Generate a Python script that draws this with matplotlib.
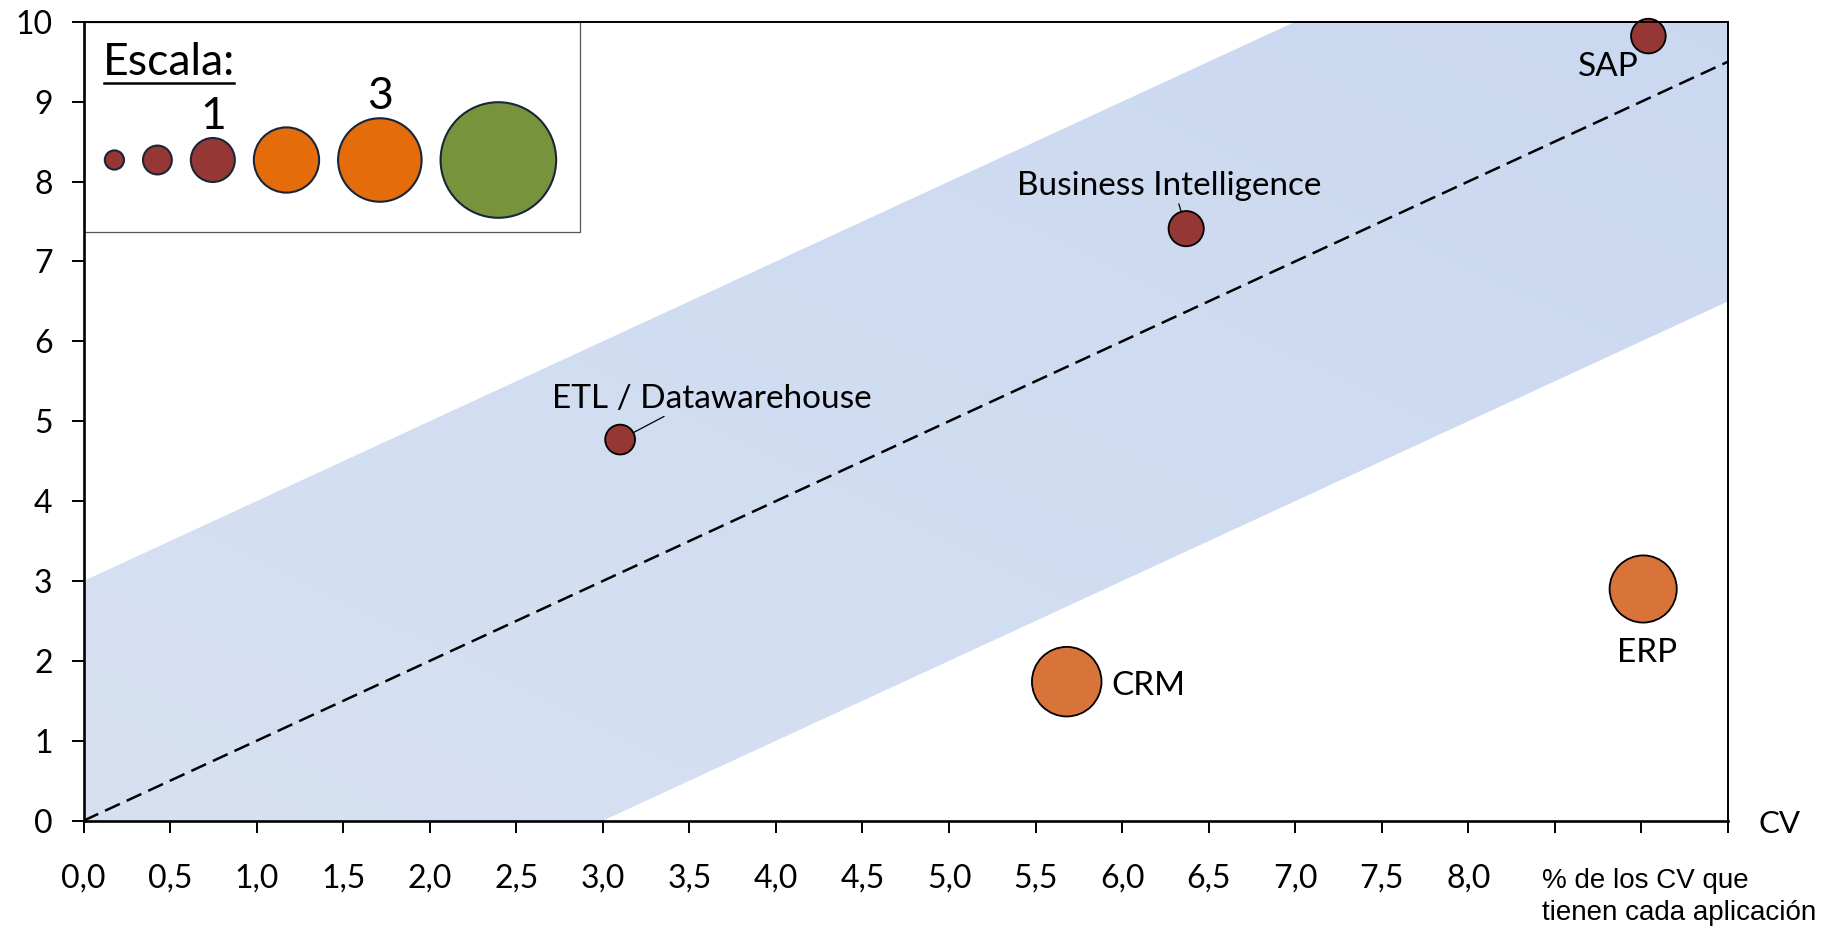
import numpy as np
import matplotlib
matplotlib.use("Agg")
import matplotlib.pyplot as plt
from matplotlib.patches import Circle, Rectangle
from matplotlib.lines import Line2D

# ---------------- data ----------------
apps = ["SAP", "Business Intelligence", "ETL / Datawarehouse", "CRM", "ERP"]
cv_pct = [9.04, 6.37, 3.10, 5.68, 9.01]          # x: % de los CV que tienen cada aplicación
cv_count = [9.82, 7.41, 4.77, 1.74, 2.90]        # y: CV
bubble_size = [0.62, 0.64, 0.46, 2.50, 2.33]
bubble_color = ["#953735", "#953735", "#953735", "#D8733A", "#D8733A"]

scale_values = [0.19, 0.43, 1.0, 2.2, 3.6, 6.9]
scale_labels = ["", "", "1", "", "3", ""]
scale_colors = ["#953735", "#953735", "#953735", "#E46C0A", "#E46C0A", "#77933C"]

x_ticks = [0.0, 0.5, 1.0, 1.5, 2.0, 2.5, 3.0, 3.5, 4.0, 4.5, 5.0, 5.5, 6.0,
           6.5, 7.0, 7.5, 8.0, 8.5, 9.0, 9.5]
x_tick_labels = ["0,0", "0,5", "1,0", "1,5", "2,0", "2,5", "3,0", "3,5", "4,0",
                 "4,5", "5,0", "5,5", "6,0", "6,5", "7,0", "7,5", "8,0", "", "", ""]
y_ticks = [0, 1, 2, 3, 4, 5, 6, 7, 8, 9, 10]
band_half_width = 3.0

# ---------------- layout ----------------
W, H, DPI = 1822, 927, 100
FONT = "Lato"
PX_PER_SIZE = 22.0   # bubble radius (px) for size 1
LABEL_FS = 24.0
LEGEND_FS = 32.0


def px2pt(px):
    return px * 72.0 / DPI


fig = plt.figure(figsize=(W / DPI, H / DPI), dpi=DPI)
ax_l, ax_r, ax_t, ax_b = 83.5, 1728, 21.7, 820.7
ax = fig.add_axes([ax_l / W, (H - ax_b) / H, (ax_r - ax_l) / W, (ax_b - ax_t) / H])
ax.set_xlim(0, 9.5)
ax.set_ylim(0, 10)

# band with subtle gradient
xs = np.linspace(0, 9.5, 200)
band = ax.fill_between(xs, xs - band_half_width, xs + band_half_width,
                       facecolor="none", edgecolor="none")
gx, gy = np.meshgrid(np.linspace(0, 1, 200), np.linspace(0, 1, 200))
t = np.clip((gx + gy) / 2.0, 0, 1)[..., None]
c1 = np.array([0.843, 0.882, 0.949])
c2 = np.array([0.792, 0.847, 0.941])
img = c1 * (1 - t) + c2 * t
im = ax.imshow(img, extent=[0, 9.5, 10, 0], origin="upper", aspect="auto",
               zorder=0.5, interpolation="bilinear")
im.set_clip_path(band.get_paths()[0], ax.transData)
ax.set_ylim(0, 10)

# reference diagonal
ax.plot(xs, xs, color="black", lw=1.8, dashes=(6.5, 3.0), zorder=1.5)

# legend box (in axes)
ax.add_patch(Rectangle((0, 7.37), 2.87, 10 - 7.37, facecolor="white",
                       edgecolor="#555555", lw=0.9, zorder=2))

# bubbles
radii_px = [PX_PER_SIZE * np.sqrt(s) for s in bubble_size]
sizes = [(px2pt(2 * r)) ** 2 for r in radii_px]
ax.scatter(cv_pct, cv_count, s=sizes, c=bubble_color, edgecolors="black",
           linewidths=1.3, zorder=3, clip_on=False)

# labels: (x, baseline y, ha, leader relpos or None)
label_pos = {
    "SAP": (8.81, 9.32, "center", None),
    "Business Intelligence": (6.27, 7.83, "center", 0.53),
    "ETL / Datawarehouse": (3.63, 5.17, "center", 0.367),
    "CRM": (5.94, 1.57, "left", None),
    "ERP": (9.035, 1.99, "center", None),
}
for name, x, y, r in zip(apps, cv_pct, cv_count, radii_px):
    lx, ly, ha, rel = label_pos[name]
    if rel is None:
        ax.text(lx, ly, name, ha=ha, va="baseline", fontsize=LABEL_FS,
                family=FONT, zorder=4)
    else:
        ax.annotate(name, xy=(x, y), xytext=(lx, ly), textcoords="data",
                    ha=ha, va="baseline", fontsize=LABEL_FS, family=FONT, zorder=4,
                    arrowprops=dict(arrowstyle="-", color="black", lw=0.9,
                                    relpos=(rel, 0.0), shrinkA=0,
                                    shrinkB=px2pt(r)))

# axes styling
for side in ["left", "bottom"]:
    ax.spines[side].set_linewidth(1.9)
for side in ["top", "right"]:
    ax.spines[side].set_linewidth(1.4)
for sp in ax.spines.values():
    sp.set_color("black")
    sp.set_zorder(5)

ax.set_xticks(x_ticks)
ax.set_xticklabels(x_tick_labels)
ax.set_yticks(y_ticks)
ax.set_yticklabels([str(v) for v in y_ticks])
ax.tick_params(axis="both", direction="out", length=8.6, width=1.4,
               color="black", labelsize=23)
ax.tick_params(axis="x", pad=22)
ax.tick_params(axis="y", pad=13.7)
for lab in ax.get_xticklabels() + ax.get_yticklabels():
    lab.set_family(FONT)

# axis captions
fig.text(1758 / W, (H - 833.3) / H, "CV", fontsize=22.5, family=FONT,
         ha="left", va="baseline")
fig.text(1542 / W, (H - 868) / H, "% de los CV que\ntienen cada aplicación",
         fontsize=20, family="Liberation Sans", ha="left", va="top",
         linespacing=1.32)

# ---------------- scale legend ----------------
lg_l, lg_t, lg_r, lg_b = 83.5, 21.7, 581, 231.7
lw_, lh_ = lg_r - lg_l, lg_b - lg_t
lax = fig.add_axes([lg_l / W, (H - lg_b) / H, lw_ / W, lh_ / H])
lax.set_xlim(0, lw_)
lax.set_ylim(lh_, 0)
lax.axis("off")
lax.patch.set_visible(False)

scale_r = [PX_PER_SIZE * np.sqrt(v) for v in scale_values]
gap = 19.0
cx = 21.3
cy = 138.3
for r, col, lab in zip(scale_r, scale_colors, scale_labels):
    cx += r
    lax.add_patch(Circle((cx, cy), r, facecolor=col, edgecolor="#17263A",
                         lw=1.5, zorder=3))
    if lab:
        lax.text(cx, cy - r - 9, lab, ha="center", va="baseline",
                 fontsize=LEGEND_FS, family=FONT)
    cx += r + gap

esc = lax.text(19.5, 53.3, "Escala:", ha="left", va="baseline",
               fontsize=LEGEND_FS, family=FONT)
fig.canvas.draw()
bb = esc.get_window_extent(fig.canvas.get_renderer())
uy = H - 83.0
fig.add_artist(Line2D([bb.x0 + 1, bb.x1 - 1], [uy, uy], transform=None,
                      color="black", lw=1.8))

fig.savefig("out.png", dpi=DPI)
